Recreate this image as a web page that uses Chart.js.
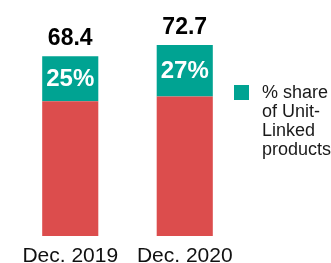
<!DOCTYPE html>
<html>
<head>
<meta charset="utf-8">
<script src="https://cdn.jsdelivr.net/npm/chart.js@4"></script>
<style>
  html, body { margin: 0; padding: 0; background: #fff; }
  #wrap { width: 331px; height: 263px; position: relative; }
</style>
</head>
<body>
<div id="wrap"><canvas id="unitLinkedChart"></canvas></div>
<script>
const categories = ['Dec. 2019', 'Dec. 2020'];
const otherValues = [51.3, 53.1];
const unitLinkedValues = [17.1, 19.6];
const totalLabels = ['68.4', '72.7'];
const shareLabels = ['25%', '27%'];
const legendLines = ['% share', 'of Unit-', 'Linked', 'products'];

const red = '#DC4D4D';
const teal = '#00A392';

// totals above bars, share inside teal block, legend on the right
const barLabels = {
    id: 'barLabels',
    afterDatasetsDraw(chart) {
        const ctx = chart.ctx;
        const meta = chart.getDatasetMeta(1);
        ctx.save();
        ctx.textAlign = 'center';
        meta.data.forEach((bar, i) => {
            ctx.fillStyle = '#fff';
            ctx.font = 'bold 24px "Liberation Sans", Arial, sans-serif';
            ctx.textBaseline = 'middle';
            ctx.fillText(shareLabels[i], bar.x, (bar.y + bar.base) / 2 + 1);

            ctx.fillStyle = '#000';
            ctx.font = 'bold 23px "Liberation Sans", Arial, sans-serif';
            ctx.textBaseline = 'alphabetic';
            ctx.fillText(totalLabels[i], bar.x, bar.y - 11);
        });

        const lx = chart.chartArea.right - 8;
        ctx.fillStyle = teal;
        ctx.fillRect(lx, 85, 15, 15);
        ctx.fillStyle = '#1a1a1a';
        ctx.font = '18px "Liberation Sans", Arial, sans-serif';
        ctx.textAlign = 'left';
        legendLines.forEach((line, i) => {
            ctx.fillText(line, lx + 28, 98 + i * 19);
        });
        ctx.restore();
    }
};

const ctx = document.getElementById('unitLinkedChart').getContext('2d');
new Chart(ctx, {
    type: 'bar',
    data: {
        labels: categories,
        datasets: [
            {
                label: 'Other products',
                data: otherValues,
                backgroundColor: red,
                borderWidth: 0
            },
            {
                label: '% share of Unit-Linked products',
                data: unitLinkedValues,
                backgroundColor: teal,
                borderWidth: 0
            }
        ]
    },
    options: {
        responsive: true,
        maintainAspectRatio: false,
        animation: false,
        barPercentage: 0.49,
        categoryPercentage: 1,
        layout: {
            padding: { left: 13, right: 89, top: 10, bottom: 0 }
        },
        scales: {
            x: {
                stacked: true,
                grid: { display: false, drawTicks: false },
                border: { display: false },
                afterFit: (scale) => { scale.height = 27; },
                ticks: {
                    color: '#111',
                    padding: 10,
                    font: { family: '"Liberation Sans", Arial, sans-serif', size: 21, lineHeight: 1 }
                }
            },
            y: {
                stacked: true,
                display: false,
                min: 0,
                max: 86
            }
        },
        plugins: {
            legend: { display: false },
            tooltip: { enabled: false }
        }
    },
    plugins: [barLabels]
});
</script>
</body>
</html>
